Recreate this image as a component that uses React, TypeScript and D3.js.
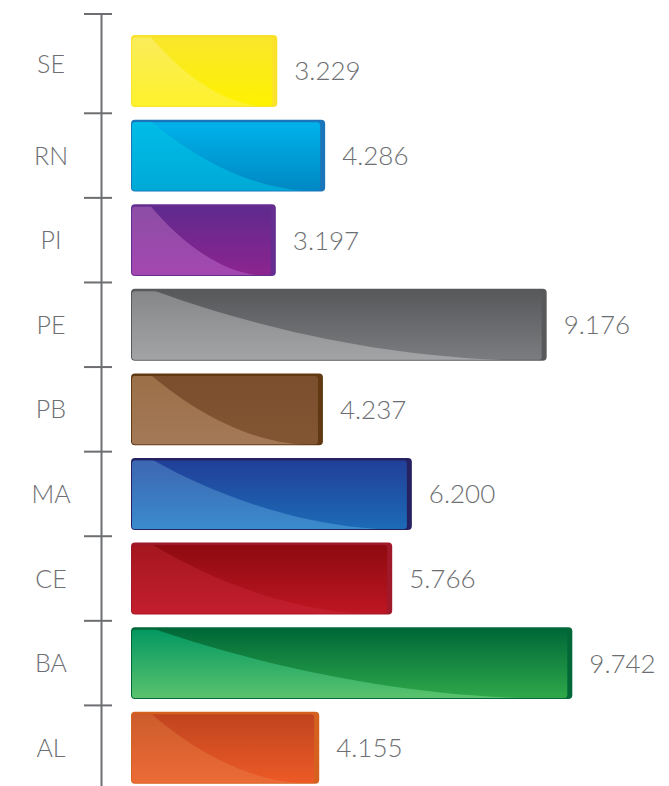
import * as React from "react";
import * as d3 from "d3";

const categories = ["SE", "RN", "PI", "PE", "PB", "MA", "CE", "BA", "AL"];
const values = [3.229, 4.286, 3.197, 9.176, 4.237, 6.2, 5.766, 9.742, 4.155];
const valueLabels = ["3.229", "4.286", "3.197", "9.176", "4.237", "6.200", "5.766", "9.742", "4.155"];

// edge, main top, main bottom, light top, light bottom
const edgeColors = ["#fbe22a", "#1b75bb", "#662d91", "#58595b", "#603913", "#262262", "#a0192a", "#006838", "#d4621e"];
const mainTop = ["#f9e62c", "#00b2ea", "#5f2a8e", "#58595b", "#7a4f2d", "#213f99", "#8e0a10", "#006838", "#c0441f"];
const mainBottom = ["#fff200", "#0088c4", "#8d248f", "#7b7c7f", "#835633", "#1c6bb6", "#bd1622", "#2fa84a", "#ec5a26"];
const lightTop = ["#fbec5c", "#00bde8", "#8b4ea5", "#858688", "#9a7048", "#3d65b0", "#a3161e", "#009661", "#cc5b2c"];
const lightBottom = ["#fef22b", "#00a9d6", "#a447b0", "#a3a4a6", "#a47957", "#3a8ccd", "#c41e2e", "#5bc36e", "#ec6b36"];

export default function App() {
  const ref = React.useRef<SVGSVGElement>(null);

  const draw = () => {
    const svg = d3.select(ref.current);
    svg.selectAll("*").remove();

    const textColor = "#6d6e71";
    const font = "Lato, 'Open Sans', sans-serif";
    const axisX = 101.5;
    const axisTop = 14;

    const y = d3
      .scaleBand()
      .domain(categories)
      .range([28.7, 790])
      .paddingInner(0.15)
      .paddingOuter(0.075);
    const x = d3.scaleLinear().domain([0, 10]).range([131, 584]);

    const defs = svg.append("defs");
    categories.forEach((c, i) => {
      const g1 = defs
        .append("linearGradient")
        .attr("id", "main" + i)
        .attr("x1", 0)
        .attr("y1", 0)
        .attr("x2", 0)
        .attr("y2", 1);
      g1.append("stop").attr("offset", "0%").attr("stop-color", mainTop[i]);
      g1.append("stop").attr("offset", "100%").attr("stop-color", mainBottom[i]);
      const g2 = defs
        .append("linearGradient")
        .attr("id", "light" + i)
        .attr("x1", 0)
        .attr("y1", 0)
        .attr("x2", 0)
        .attr("y2", 1);
      g2.append("stop").attr("offset", "0%").attr("stop-color", lightTop[i]);
      g2.append("stop").attr("offset", "100%").attr("stop-color", lightBottom[i]);
    });

    // axis
    const step = y.step();
    const pad = (y.paddingInner() * step) / 2;
    svg
      .append("line")
      .attr("x1", axisX)
      .attr("x2", axisX)
      .attr("y1", axisTop)
      .attr("y2", 786)
      .attr("stroke", textColor)
      .attr("stroke-width", 2);
    const tickYs = [axisTop].concat(categories.slice(1).map((c) => y(c)! - pad));
    svg
      .selectAll(".tick")
      .data(tickYs)
      .enter()
      .append("line")
      .attr("x1", 84)
      .attr("x2", 112)
      .attr("y1", (d) => d)
      .attr("y2", (d) => d)
      .attr("stroke", textColor)
      .attr("stroke-width", 2);

    // labels sit in the middle of each axis segment
    const segEnd = tickYs.slice(1).concat([y.range()[1]]);
    svg
      .selectAll(".cat")
      .data(categories)
      .enter()
      .append("text")
      .text((d) => d)
      .attr("x", 51)
      .attr("y", (d, i) => (tickYs[i] + segEnd[i]) / 2 + 9)
      .attr("text-anchor", "middle")
      .attr("font-family", font)
      .attr("font-weight", 300)
      .attr("font-size", "25px")
      .attr("fill", textColor);

    const bars = svg
      .selectAll(".bar")
      .data(categories)
      .enter()
      .append("g");

    bars.each(function (c, i) {
      const g = d3.select(this);
      const x0 = x(0);
      const x1 = x(values[i]);
      const top = y(c)!;
      const h = y.bandwidth();
      const bottom = top + h;

      defs
        .append("clipPath")
        .attr("id", "clip" + i)
        .append("rect")
        .attr("x", x0 + 1)
        .attr("y", top + 2.5)
        .attr("width", x1 - x0 - 6)
        .attr("height", h - 3.5)
        .attr("rx", 3);

      g.append("rect")
        .attr("x", x0)
        .attr("y", top)
        .attr("width", x1 - x0)
        .attr("height", h)
        .attr("rx", 4)
        .attr("fill", edgeColors[i]);

      g.append("rect")
        .attr("x", x0 + 1)
        .attr("y", top + 2.5)
        .attr("width", x1 - x0 - 6)
        .attr("height", h - 3.5)
        .attr("rx", 3)
        .attr("fill", "url(#main" + i + ")");

      // glossy highlight, curve from top-left to bottom-right
      const xs = x0 + 18;
      const xe = x1 - 6;
      const w = xe - xs;
      const path =
        `M${x0},${top} L${xs},${top} ` +
        `C${xs + 0.25 * w},${top + 0.5 * h} ${xs + 0.6 * w},${bottom} ${xe},${bottom} ` +
        `L${x0},${bottom} Z`;
      g.append("path")
        .attr("d", path)
        .attr("fill", "url(#light" + i + ")")
        .attr("clip-path", "url(#clip" + i + ")");

      g.append("text")
        .text(valueLabels[i])
        .attr("x", x1 + 17)
        .attr("y", top + h / 2 + 9.5)
        .attr("font-family", font)
        .attr("font-weight", 300)
        .attr("font-size", "26px")
        .attr("fill", textColor);
    });
  };

  React.useEffect(() => {
    draw();
    // eslint-disable-next-line react-hooks/exhaustive-deps
  }, []);

  return (
    <svg
      ref={ref}
      width={669}
      height={786}
      style={{ position: "absolute", left: 0, top: 0, background: "#fff" }}
    />
  );
}
